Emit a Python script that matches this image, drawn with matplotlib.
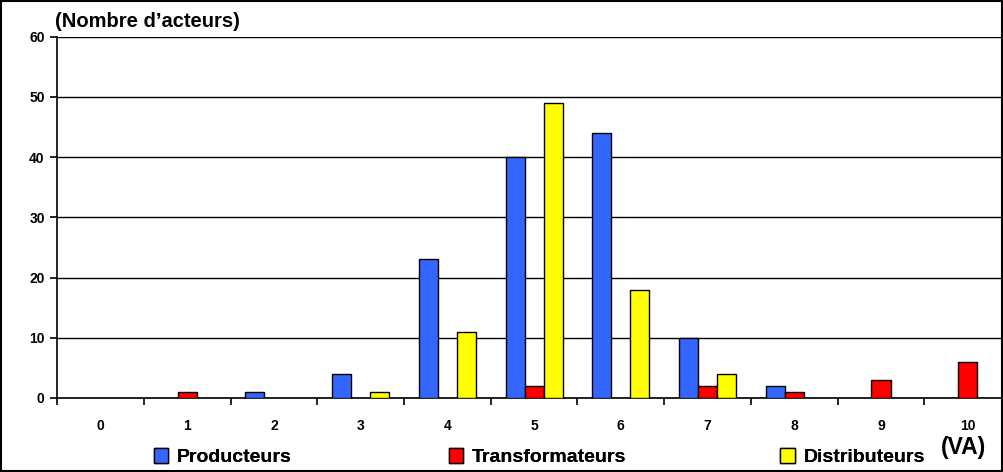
import matplotlib.pyplot as plt
import numpy as np
from matplotlib.patches import Rectangle, Patch

plt.rcParams['font.family'] = ['Liberation Sans', 'DejaVu Sans']
plt.rcParams['font.weight'] = 'bold'

categories = ['0', '1', '2', '3', '4', '5', '6', '7', '8', '9', '10']
producteurs = [0, 0, 1, 4, 23, 40, 44, 10, 2, 0, 0]
transformateurs = [0, 1, 0, 0, 0, 2, 0, 2, 1, 3, 6]
distributeurs = [0, 0, 0, 1, 11, 49, 18, 4, 0, 0, 0]
series_names = ['Producteurs', 'Transformateurs', 'Distributeurs']
colors = ['#3366FF', '#FF0000', '#FFFF00']

fig = plt.figure(figsize=(10.04, 4.72), dpi=100)
ax = fig.add_axes([0.057, 0.157, 0.95, 0.765])

x = np.arange(len(categories))
w = 0.22
for i, (vals, name, col) in enumerate(zip([producteurs, transformateurs, distributeurs], series_names, colors)):
    h = np.array(vals, dtype=float)
    mask = h > 0
    ax.bar(x[mask] + (i - 1) * w, h[mask], width=w, color=col, edgecolor='black',
           linewidth=1.0, zorder=3)

ax.set_xlim(-0.5, 10.5)
ax.set_ylim(0, 60)
ax.set_yticks(range(0, 61, 10))
ax.yaxis.grid(True, color='black', linewidth=1.0, zorder=0)
ax.set_axisbelow(True)
for s in ['top', 'right']:
    ax.spines[s].set_visible(False)
ax.spines['left'].set_linewidth(1.2)
ax.spines['bottom'].set_linewidth(1.2)

ax.set_xticks(np.arange(-0.5, 10.6, 1.0))
ax.set_xticklabels([])
ax.set_xticks(x, minor=True)
ax.set_xticklabels(categories, minor=True)
ax.tick_params(axis='x', which='major', direction='out', length=5, width=1.2)
ax.tick_params(axis='x', which='minor', length=0, pad=15, labelsize=10)
ax.tick_params(axis='y', direction='out', length=5, width=1.2, labelsize=10, pad=4)
for lbl in ax.get_xticklabels(minor=True) + ax.get_yticklabels():
    lbl.set_fontweight('bold')

fig.text(0.055, 0.955, "(Nombre d\u2019acteurs)", fontsize=14.5, fontweight='bold', ha='left', va='center')
fig.text(0.96, 0.052, "(VA)", fontsize=16.5, fontweight='bold', ha='center', va='center')

legend_x = [0.153, 0.447, 0.777]
for name, col, lx in zip(series_names, colors, legend_x):
    leg = fig.legend(handles=[Patch(facecolor=col, edgecolor='black', linewidth=1.0)],
                     labels=[name], loc='center left', bbox_to_anchor=(lx, 0.031),
                     frameon=False, handlelength=0.75, handleheight=0.75,
                     handletextpad=0.45, borderpad=0, borderaxespad=0,
                     prop={'weight': 'bold', 'size': 14})
    fig.add_artist(leg)

fig.patches.append(Rectangle((0.001, 0.002), 0.997, 0.996, transform=fig.transFigure,
                             fill=False, edgecolor='black', linewidth=1.5))

fig.savefig('out.png', dpi=100)
